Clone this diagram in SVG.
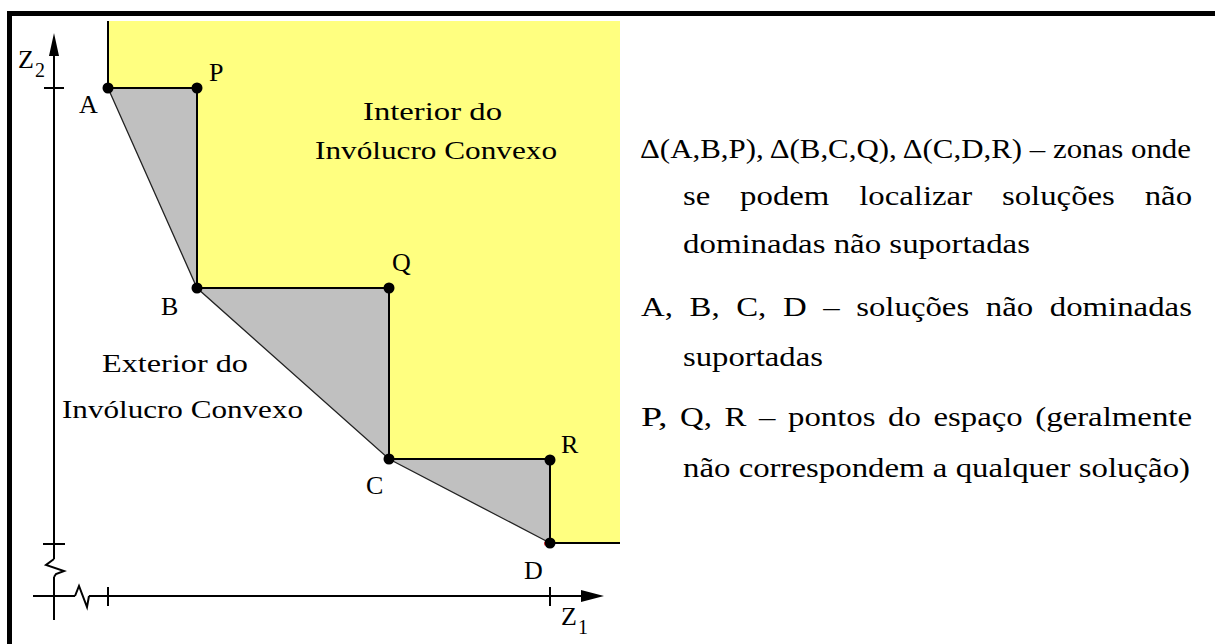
<svg xmlns="http://www.w3.org/2000/svg" width="1215" height="644" viewBox="0 0 1215 644">
<style>
.frame{fill:#000}
.yellow{fill:#ffff80}
.gray{fill:#c0c0c0}
.stair{fill:none;stroke:#000;stroke-width:2}
.hull{fill:none;stroke:#222;stroke-width:1.3}
.axis{fill:none;stroke:#000;stroke-width:2}
.dot{fill:#000}
.lbl{font-family:"Liberation Serif","Times New Roman",serif;font-size:26px;fill:#000}
.sub{font-family:"Liberation Serif","Times New Roman",serif;font-size:20px;fill:#000}
.reg{font-family:"Liberation Serif","Times New Roman",serif;font-size:26px;fill:#000}
.txt{font-family:"Liberation Serif","Times New Roman",serif;font-size:27px;fill:#000}
</style>
<rect width="1215" height="644" fill="#fff"/>
<g id="frame">
<rect class="frame" x="7" y="11" width="1208" height="5"/>
<rect class="frame" x="7" y="11" width="5" height="633"/>
</g>
<g id="regions">
<polygon class="yellow" points="108,21 620,21 620,543 550,543 550,460 389,460 389,288 197,288 197,88 108,88"/>
<polygon class="gray" points="108,88 197,88 197,288"/>
<polygon class="gray" points="197,288 389,288 389,459"/>
<polygon class="gray" points="389,459 550,460 550,543"/>
</g>
<g id="axes">
<path class="axis" d="M54,52 V559 M54,577 V620"/>
<polyline class="axis" points="54,559 46,565 64,571 56,574 54,577"/>
<polygon points="54,33 49,56 59,56" fill="#000"/>
<path class="axis" d="M44,88 H64 M43,544 H65"/>
<path class="axis" d="M33,596 H75 M89,596 H584"/>
<polyline class="axis" points="75,596 79,586 87,607 89,596"/>
<polygon points="604,596 581,590 581,602" fill="#000"/>
<path class="axis" d="M108,587 V606 M550,587 V606"/>
<text class="lbl" x="18" y="68">Z</text><text class="sub" x="35" y="77">2</text>
<text class="lbl" x="561" y="625">Z</text><text class="sub" x="578" y="634">1</text>
</g>
<g id="connectors">
<path class="stair" d="M108,21 V88 H197 V288 H389 V459 H550 V543 H620"/>
<path class="hull" d="M108,88 L197,288 L389,459 L550,543"/>
</g>
<g id="node-A"><circle class="dot" cx="108" cy="88" r="5.5"/><text class="lbl" x="79" y="113">A</text></g>
<g id="node-P"><circle class="dot" cx="197" cy="88" r="5.5"/><text class="lbl" x="209" y="81">P</text></g>
<g id="node-B"><circle class="dot" cx="197" cy="288" r="5.5"/><text class="lbl" x="161" y="315">B</text></g>
<g id="node-Q"><circle class="dot" cx="389" cy="288" r="5.5"/><text class="lbl" x="392" y="271">Q</text></g>
<g id="node-C"><circle class="dot" cx="389" cy="459" r="5.5"/><text class="lbl" x="366" y="494">C</text></g>
<g id="node-R"><circle class="dot" cx="550" cy="460" r="5.5"/><text class="lbl" x="561" y="453">R</text></g>
<g id="node-D"><circle class="dot" cx="550" cy="543" r="5.5" stroke="#d00" stroke-width="0.8" stroke-dasharray="4 30" stroke-dashoffset="-14"/><text class="lbl" x="524" y="579">D</text></g>
<g id="region-labels">
<text class="reg" x="363" y="120" textLength="139" lengthAdjust="spacingAndGlyphs">Interior do</text>
<text class="reg" x="315" y="159" textLength="242" lengthAdjust="spacingAndGlyphs">Invólucro Convexo</text>
<text class="reg" x="102" y="372" textLength="146" lengthAdjust="spacingAndGlyphs">Exterior do</text>
<text class="reg" x="62" y="418" textLength="241" lengthAdjust="spacingAndGlyphs">Invólucro Convexo</text>
</g>
<g id="legend">
<text class="txt" x="640" y="158" textLength="551" lengthAdjust="spacingAndGlyphs">Δ(A,B,P), Δ(B,C,Q), Δ(C,D,R) – zonas onde</text>
<g id="legend-l2">
<text class="txt" x="683" y="205" textLength="27.3" lengthAdjust="spacingAndGlyphs">se</text>
<text class="txt" x="740.1" y="205" textLength="89.3" lengthAdjust="spacingAndGlyphs">podem</text>
<text class="txt" x="859.2" y="205" textLength="112.9" lengthAdjust="spacingAndGlyphs">localizar</text>
<text class="txt" x="1001.9" y="205" textLength="113" lengthAdjust="spacingAndGlyphs">soluções</text>
<text class="txt" x="1144.7" y="205" textLength="47.4" lengthAdjust="spacingAndGlyphs">não</text>
</g>
<text class="txt" x="683" y="253" textLength="347" lengthAdjust="spacingAndGlyphs">dominadas não suportadas</text>
<g id="legend-l4">
<text class="txt" x="641" y="316" textLength="31.9" lengthAdjust="spacingAndGlyphs">A,</text>
<text class="txt" x="689.5" y="316" textLength="30.1" lengthAdjust="spacingAndGlyphs">B,</text>
<text class="txt" x="736.2" y="316" textLength="30.1" lengthAdjust="spacingAndGlyphs">C,</text>
<text class="txt" x="782.9" y="316" textLength="23.7" lengthAdjust="spacingAndGlyphs">D</text>
<text class="txt" x="823.2" y="316" textLength="16.4" lengthAdjust="spacingAndGlyphs">–</text>
<text class="txt" x="856.2" y="316" textLength="113" lengthAdjust="spacingAndGlyphs">soluções</text>
<text class="txt" x="985.8" y="316" textLength="47.4" lengthAdjust="spacingAndGlyphs">não</text>
<text class="txt" x="1049.8" y="316" textLength="142.1" lengthAdjust="spacingAndGlyphs">dominadas</text>
</g>
<text class="txt" x="683" y="366" textLength="140" lengthAdjust="spacingAndGlyphs">suportadas</text>
<g id="legend-l6">
<text class="txt" x="641" y="426" textLength="26.4" lengthAdjust="spacingAndGlyphs">P,</text>
<text class="txt" x="680" y="426" textLength="31.9" lengthAdjust="spacingAndGlyphs">Q,</text>
<text class="txt" x="724.5" y="426" textLength="21.9" lengthAdjust="spacingAndGlyphs">R</text>
<text class="txt" x="759" y="426" textLength="16.4" lengthAdjust="spacingAndGlyphs">–</text>
<text class="txt" x="788" y="426" textLength="87.5" lengthAdjust="spacingAndGlyphs">pontos</text>
<text class="txt" x="888.1" y="426" textLength="32.8" lengthAdjust="spacingAndGlyphs">do</text>
<text class="txt" x="933.5" y="426" textLength="89.2" lengthAdjust="spacingAndGlyphs">espaço</text>
<text class="txt" x="1035.3" y="426" textLength="156.7" lengthAdjust="spacingAndGlyphs">(geralmente</text>
</g>
<text class="txt" x="683" y="477" textLength="507" lengthAdjust="spacingAndGlyphs">não correspondem a qualquer solução)</text>
</g>
</svg>
